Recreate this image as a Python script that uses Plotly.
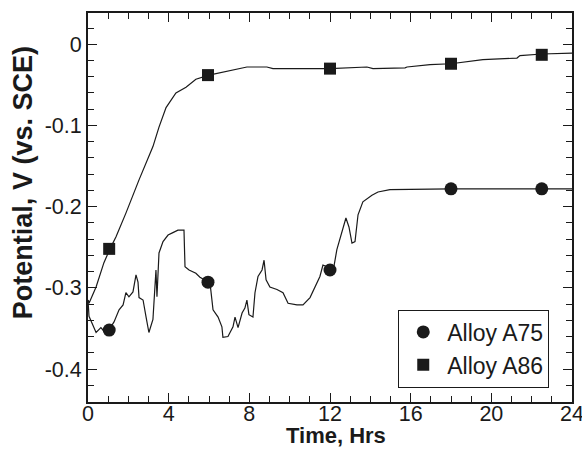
import plotly.graph_objects as go

# ---- data ----
a75_t = [0.00, 0.05, 0.40, 0.64, 0.84, 1.04, 1.29, 1.54, 1.74, 1.88, 2.03, 2.23, 2.38, 2.48,
         2.53, 2.73, 2.88, 3.02, 3.22, 3.27, 3.37, 3.42, 3.52, 3.72, 3.97, 4.21, 4.46, 4.76,
         4.81, 5.01, 5.35, 5.55, 5.95, 6.05, 6.20, 6.45, 6.64, 6.69, 6.94, 7.19, 7.29, 7.44,
         7.64, 7.78, 7.88, 7.98, 8.18, 8.28, 8.43, 8.63, 8.73, 8.83, 9.02, 9.37, 9.67, 9.92,
         10.36, 10.66, 11.01, 11.25, 11.50, 11.65, 11.85, 12.00, 12.15, 12.34, 12.49, 12.64,
         12.79, 12.94, 13.09, 13.24, 13.39, 13.63, 14.08, 14.38, 14.97, 18.00, 24.00]
a75_v = [-0.315, -0.335, -0.355, -0.349, -0.355, -0.352, -0.342, -0.327, -0.321, -0.306,
         -0.311, -0.305, -0.284, -0.293, -0.312, -0.315, -0.336, -0.355, -0.339, -0.315,
         -0.278, -0.311, -0.257, -0.243, -0.235, -0.232, -0.229, -0.229, -0.274, -0.278,
         -0.282, -0.287, -0.293, -0.294, -0.327, -0.336, -0.348, -0.361, -0.360, -0.348,
         -0.336, -0.349, -0.331, -0.325, -0.315, -0.333, -0.336, -0.306, -0.286, -0.278,
         -0.266, -0.290, -0.299, -0.302, -0.306, -0.319, -0.321, -0.321, -0.312, -0.300,
         -0.286, -0.272, -0.274, -0.278, -0.280, -0.253, -0.241, -0.229, -0.214, -0.225,
         -0.245, -0.243, -0.210, -0.194, -0.186, -0.182, -0.179, -0.178, -0.178]

a86_t = [0.00, 0.05, 0.40, 0.79, 1.09, 1.39, 1.88, 2.53, 3.22, 3.52, 3.87, 4.36, 4.86, 5.35,
         6.00, 6.69, 7.88, 8.87, 9.17, 12.00, 13.83, 14.13, 15.72, 15.82, 16.96, 18.00,
         18.69, 19.58, 21.27, 21.42, 22.51, 24.00]
a86_v = [-0.315, -0.319, -0.299, -0.269, -0.252, -0.237, -0.208, -0.167, -0.126, -0.102,
         -0.078, -0.060, -0.053, -0.043, -0.038, -0.034, -0.028, -0.028, -0.030, -0.030,
         -0.028, -0.030, -0.029, -0.028, -0.025, -0.024, -0.022, -0.019, -0.017, -0.014,
         -0.012, -0.011]

marker_t = [1.05, 5.95, 12.0, 18.0, 22.5]
a75_marker_v = [-0.352, -0.293, -0.278, -0.178, -0.178]
a86_marker_v = [-0.252, -0.038, -0.030, -0.024, -0.013]

x_tickvals = [0, 4, 8, 12, 16, 20, 24]
x_ticktext = ["0", "4", "8", "12", "16", "20", "24"]
y_tickvals = [0, -0.1, -0.2, -0.3, -0.4]
y_ticktext = ["0", "-0.1", "-0.2", "-0.3", "-0.4"]

INK = "#1a1a1a"
FONT = "Liberation Sans, Arial, sans-serif"

fig = go.Figure()
fig.add_trace(go.Scatter(x=a75_t, y=a75_v, mode="lines", line=dict(color=INK, width=1.2),
                         showlegend=False, hoverinfo="skip"))
fig.add_trace(go.Scatter(x=a86_t, y=a86_v, mode="lines", line=dict(color=INK, width=1.2),
                         showlegend=False, hoverinfo="skip"))
fig.add_trace(go.Scatter(x=marker_t, y=a75_marker_v, mode="markers", name="Alloy A75",
                         marker=dict(symbol="circle", size=13, color=INK)))
fig.add_trace(go.Scatter(x=marker_t, y=a86_marker_v, mode="markers", name="Alloy A86",
                         marker=dict(symbol="square", size=12, color=INK)))

axis_common = dict(showline=True, linecolor=INK, linewidth=2, mirror="ticks",
                   ticks="inside", ticklen=9, tickwidth=1.3, tickcolor=INK,
                   showgrid=False, zeroline=False, automargin=False,
                   ticklabeloverflow="allow",
                   tickfont=dict(family=FONT, size=21.5, color=INK))

fig.update_xaxes(range=[0, 24], tickmode="array", tickvals=x_tickvals, ticktext=x_ticktext,
                 ticklabelstandoff=-9,
                 minor=dict(ticks="inside", dtick=1, ticklen=6, tickwidth=1.2, tickcolor=INK),
                 **axis_common)
fig.update_yaxes(range=[-0.4406, 0.0385], tickmode="array", tickvals=y_tickvals,
                 ticktext=y_ticktext,
                 minor=dict(ticks="inside", dtick=0.02, tick0=0, ticklen=6, tickwidth=1.2,
                            tickcolor=INK),
                 **axis_common)

fig.add_annotation(text="<b>Time, Hrs</b>", xref="paper", yref="paper", x=0.512, y=-0.087,
                   xanchor="center", yanchor="middle", showarrow=False,
                   font=dict(family=FONT, size=22, color=INK))
fig.add_annotation(text="<b>Potential, V (vs. SCE)</b>", xref="paper", yref="paper",
                   x=-0.134, y=0.563, xanchor="center", yanchor="middle", textangle=-90,
                   showarrow=False, font=dict(family=FONT, size=27, color=INK))

fig.update_layout(
    width=582, height=449,
    margin=dict(l=88, r=10, t=13, b=47),
    paper_bgcolor="white", plot_bgcolor="white",
    legend=dict(x=0.797, y=0.1375, xanchor="center", yanchor="middle",
                bordercolor=INK, borderwidth=1, bgcolor="white",
                font=dict(family=FONT, size=23, color=INK),
                tracegroupgap=0, itemwidth=38),
)

fig.write_html("out.html", config={"displayModeBar": False},
               post_script="document.body.style.margin='0';")
